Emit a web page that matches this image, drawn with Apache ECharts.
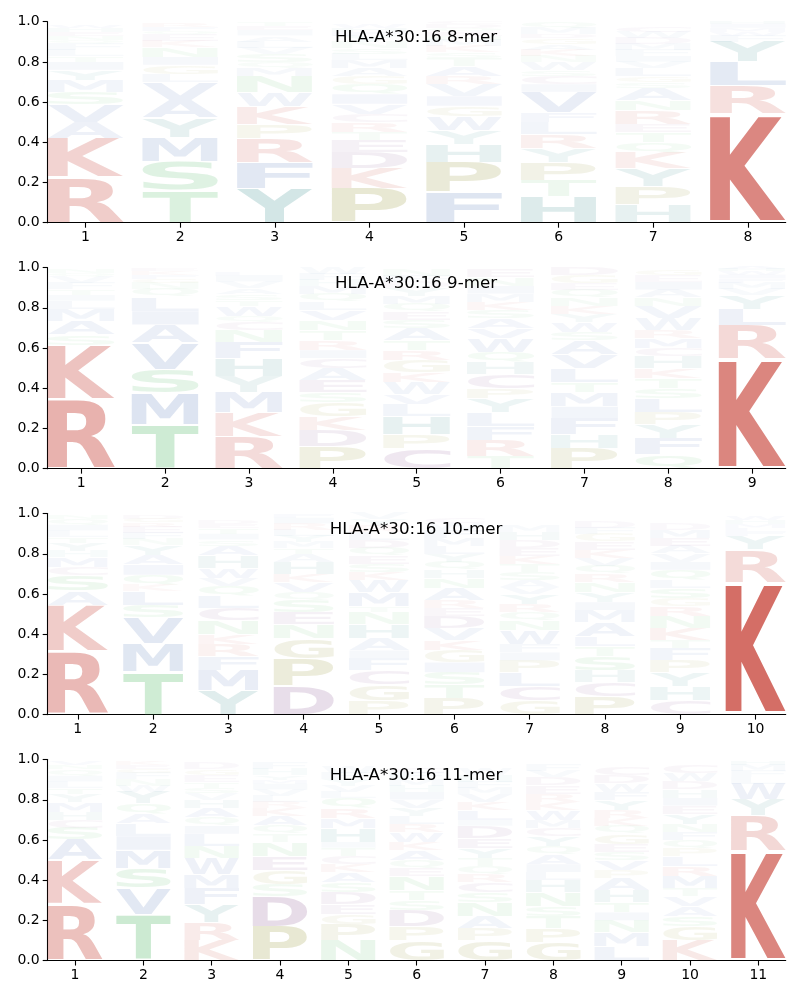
<!DOCTYPE html>
<html><head><meta charset="utf-8">
<script src="https://cdn.jsdelivr.net/npm/echarts@6.0.0/dist/echarts.min.js"></script>
<style>html,body{margin:0;padding:0;background:#fff}#chart{width:800px;height:1000px}</style>
</head><body><div id="chart"></div>
<script>
// ---------------- DATA ----------------
const titles = ['HLA-A*30:16 8-mer', 'HLA-A*30:16 9-mer', 'HLA-A*30:16 10-mer', 'HLA-A*30:16 11-mer'];
const yTicks = [0, 0.2, 0.4, 0.6, 0.8, 1.0];
const pos8 = [1, 2, 3, 4, 5, 6, 7, 8];
const pos9 = [1, 2, 3, 4, 5, 6, 7, 8, 9];
const pos10 = [1, 2, 3, 4, 5, 6, 7, 8, 9, 10];
const pos11 = [1, 2, 3, 4, 5, 6, 7, 8, 9, 10, 11];

// each column: letters from bottom to top with their heights
const mer8 = [
  [['R',.225],['K',.195],['A',.08],['V',.09],['S',.06],['M',.06],['Y',.05],['I',.04],['T',.03],['L',.03],['F',.03],['Q',.02],['N',.02],['E',.02],['H',.02],['W',.01]],
  [['T',.16],['S',.145],['M',.12],['Y',.095],['A',.09],['V',.09],['L',.04],['G',.045],['I',.04],['N',.05],['K',.03],['E',.03],['Q',.02],['F',.02],['R',.02]],
  [['Y',.17],['F',.13],['R',.12],['P',.07],['K',.09],['W',.07],['N',.08],['M',.04],['Q',.03],['S',.04],['V',.03],['L',.03],['A',.03],['I',.03],['E',.02],['T',.02]],
  [['P',.17],['K',.10],['D',.08],['E',.06],['T',.04],['R',.05],['C',.04],['V',.05],['I',.05],['Q',.05],['G',.04],['A',.04],['M',.04],['L',.03],['S',.03],['N',.03],['Y',.03],['F',.02],['H',.02],['W',.02]],
  [['F',.15],['P',.15],['H',.09],['Y',.07],['W',.07],['G',.05],['I',.05],['V',.06],['R',.04],['A',.05],['T',.04],['S',.03],['K',.03],['M',.03],['N',.02],['E',.02],['Q',.02],['D',.02],['C',.01]],
  [['H',.13],['T',.08],['P',.09],['Y',.07],['R',.07],['L',.06],['F',.05],['V',.10],['I',.04],['C',.04],['S',.03],['W',.04],['N',.03],['K',.03],['A',.03],['G',.03],['D',.02],['M',.03],['Q',.03]],
  [['H',.09],['P',.09],['Y',.09],['K',.08],['Q',.05],['T',.05],['E',.04],['R',.07],['N',.05],['A',.06],['S',.03],['G',.03],['L',.04],['V',.03],['I',.03],['F',.03],['M',.03],['D',.03],['W',.03],['C',.03]],
  [['K',.54],['R',.14],['L',.12],['Y',.10],['F',.03],['W',.02],['M',.02],['I',.02],['H',.01]]
];
const mer9 = [
  [['R',.345],['K',.27],['S',.05],['A',.07],['M',.06],['L',.04],['I',.03],['T',.03],['F',.03],['V',.03],['Q',.02],['N',.02]],
  [['T',.22],['M',.155],['S',.12],['V',.13],['A',.09],['I',.07],['L',.07],['Q',.04],['N',.03],['G',.02],['F',.02],['K',.02],['E',.01]],
  [['R',.16],['K',.12],['M',.10],['Y',.08],['H',.09],['F',.08],['N',.06],['C',.04],['Q',.03],['W',.05],['T',.03],['S',.03],['A',.03],['V',.03],['I',.03],['L',.02]],
  [['P',.11],['D',.08],['K',.07],['G',.07],['S',.05],['E',.06],['A',.06],['C',.05],['I',.04],['R',.05],['T',.05],['N',.05],['V',.05],['L',.04],['Q',.04],['M',.04],['H',.03],['F',.03],['W',.03]],
  [['C',.10],['P',.07],['H',.09],['L',.06],['V',.05],['W',.06],['K',.05],['G',.06],['R',.05],['T',.05],['A',.06],['S',.04],['E',.04],['Q',.04],['M',.04],['Y',.04],['D',.03],['F',.03],['N',.03]],
  [['T',.06],['R',.08],['F',.07],['L',.07],['Y',.07],['P',.05],['C',.07],['H',.06],['Q',.05],['W',.07],['V',.05],['A',.05],['S',.04],['K',.04],['M',.04],['I',.04],['N',.04],['E',.04]],
  [['P',.10],['H',.07],['F',.08],['I',.06],['M',.07],['T',.05],['L',.07],['V',.07],['A',.07],['S',.04],['W',.05],['Y',.04],['K',.04],['N',.04],['Q',.04],['E',.03],['G',.04],['D',.04]],
  [['Q',.07],['F',.08],['Y',.07],['P',.06],['L',.07],['S',.05],['T',.05],['K',.05],['H',.06],['C',.04],['M',.05],['R',.04],['W',.06],['V',.06],['N',.04],['A',.04],['I',.04],['E',.03],['G',.03]],
  [['K',.545],['R',.17],['L',.08],['Y',.07],['V',.03],['M',.03],['F',.02],['I',.02],['W',.02],['H',.01],['A',.01]]
];
const mer10 = [
  [['R',.315],['K',.23],['A',.07],['S',.08],['C',.04],['M',.05],['H',.03],['Y',.04],['T',.03],['L',.03],['I',.03],['Q',.03],['N',.02]],
  [['T',.215],['M',.14],['V',.13],['S',.06],['L',.07],['K',.03],['Q',.05],['I',.05],['A',.05],['Y',.05],['N',.03],['F',.03],['E',.03],['R',.02],['G',.02],['D',.02]],
  [['Y',.12],['M',.10],['F',.07],['R',.06],['K',.05],['N',.07],['C',.06],['L',.06],['Q',.05],['V',.04],['W',.05],['H',.06],['A',.05],['S',.03],['I',.03],['T',.03],['E',.02],['D',.02]],
  [['D',.14],['P',.14],['G',.10],['N',.07],['E',.06],['S',.06],['Q',.04],['V',.05],['K',.04],['H',.06],['A',.04],['T',.03],['M',.03],['Y',.03],['L',.03],['R',.03],['I',.03],['F',.02]],
  [['P',.07],['G',.08],['C',.07],['F',.06],['I',.04],['A',.06],['H',.07],['N',.06],['T',.03],['M',.07],['W',.06],['K',.04],['S',.04],['E',.04],['Q',.04],['D',.04],['L',.04],['R',.03],['Y',.03],['V',.03]],
  [['P',.08],['T',.07],['S',.06],['I',.05],['G',.06],['K',.05],['V',.06],['D',.06],['E',.04],['R',.04],['A',.06],['N',.05],['H',.04],['Q',.04],['Y',.04],['L',.04],['M',.04],['F',.04],['W',.03],['C',.03]],
  [['G',.07],['C',.07],['L',.07],['P',.06],['I',.04],['F',.04],['W',.07],['N',.05],['Q',.04],['R',.04],['Y',.05],['V',.035],['A',.035],['S',.04],['T',.04],['K',.04],['E',.04],['D',.04],['H',.04],['M',.03]],
  [['P',.09],['C',.07],['H',.06],['S',.07],['T',.05],['L',.05],['A',.07],['M',.06],['I',.04],['Y',.05],['N',.05],['R',.04],['Q',.04],['V',.04],['K',.04],['E',.04],['G',.04],['F',.03],['D',.03]],
  [['C',.07],['H',.07],['Y',.07],['P',.06],['F',.06],['T',.04],['K',.06],['N',.06],['R',.05],['G',.04],['S',.05],['L',.04],['Q',.05],['I',.04],['V',.04],['A',.04],['E',.04],['M',.04],['D',.03]],
  [['K',.655],['R',.165],['Y',.07],['F',.02],['L',.02],['M',.02],['H',.02],['W',.02]]
];
const mer11 = [
  [['R',.28],['K',.22],['A',.10],['S',.06],['C',.04],['H',.04],['M',.05],['Y',.04],['T',.03],['L',.03],['I',.03],['Q',.03],['N',.02],['V',.02]],
  [['T',.23],['V',.13],['S',.10],['M',.09],['I',.07],['L',.06],['A',.05],['Q',.05],['Y',.06],['W',.03],['N',.03],['F',.03],['G',.02],['E',.02],['K',.02]],
  [['K',.10],['R',.09],['Y',.09],['F',.08],['M',.07],['W',.08],['N',.06],['L',.06],['I',.04],['Q',.04],['A',.05],['H',.04],['V',.03],['S',.03],['T',.03],['E',.03],['G',.03],['D',.03]],
  [['P',.17],['D',.15],['S',.06],['G',.07],['E',.07],['N',.07],['T',.04],['Q',.04],['A',.05],['K',.04],['R',.03],['L',.03],['V',.03],['I',.03],['M',.02],['Y',.02],['H',.03],['F',.03]],
  [['N',.10],['P',.08],['G',.05],['E',.05],['D',.06],['S',.05],['A',.05],['K',.04],['C',.04],['T',.04],['I',.03],['H',.07],['M',.05],['R',.05],['Q',.05],['L',.03],['V',.03],['Y',.03],['F',.03],['W',.03]],
  [['G',.10],['P',.07],['D',.08],['S',.05],['T',.05],['N',.07],['E',.04],['Q',.04],['A',.05],['K',.04],['W',.05],['R',.04],['L',.04],['Y',.04],['V',.04],['I',.04],['H',.03],['M',.03],['F',.03],['C',.03]],
  [['G',.10],['P',.06],['A',.06],['N',.07],['S',.05],['C',.05],['R',.04],['Q',.04],['T',.04],['Y',.05],['E',.05],['D',.06],['I',.03],['L',.05],['K',.04],['V',.04],['M',.03],['F',.03],['H',.03],['W',.03]],
  [['G',.09],['P',.07],['T',.06],['S',.05],['N',.07],['H',.06],['L',.04],['I',.04],['A',.05],['Q',.04],['Y',.05],['C',.04],['M',.04],['W',.05],['K',.04],['R',.04],['E',.04],['D',.04],['V',.03],['F',.03]],
  [['L',.07],['M',.07],['N',.06],['I',.04],['T',.05],['H',.06],['A',.06],['P',.04],['V',.05],['S',.04],['E',.04],['G',.05],['Q',.04],['K',.04],['R',.04],['Y',.05],['F',.04],['W',.04],['D',.04],['C',.04]],
  [['K',.10],['G',.07],['S',.05],['A',.05],['V',.05],['T',.04],['M',.06],['R',.05],['L',.05],['P',.04],['Q',.04],['F',.04],['N',.04],['Y',.05],['E',.04],['I',.04],['H',.04],['D',.04],['W',.04],['C',.04]],
  [['K',.545],['R',.175],['Y',.08],['W',.08],['L',.03],['F',.03],['M',.03],['H',.02]]
];

// ---------------- STYLE ----------------
const FONT = 'bold 100px "DejaVu Sans"';
const GROUP = {
  red: [200, 70, 60], green: [70, 180, 90], blue: [70, 110, 180],
  teal: [40, 130, 130], olive: [140, 140, 40], purple: [120, 60, 130]
};
const LETTER_GROUP = {
  K:'red', R:'red', S:'green', T:'green', N:'green', Q:'green',
  A:'blue', V:'blue', L:'blue', I:'blue', M:'blue', F:'blue', W:'blue',
  Y:'teal', H:'teal', P:'olive', G:'olive', D:'purple', E:'purple', C:'purple'
};
const VPAD = 0.05;

// glyph ink metrics
const cv = document.createElement('canvas');
const ctx = cv.getContext('2d');
ctx.font = FONT; ctx.textBaseline = 'middle'; ctx.textAlign = 'left';
const metrics = {};
'ACDEFGHIKLMNPQRSTVWY'.split('').forEach(c => {
  const m = ctx.measureText(c);
  metrics[c] = { l: m.actualBoundingBoxLeft, r: m.actualBoundingBoxRight, a: m.actualBoundingBoxAscent, d: m.actualBoundingBoxDescent };
});

function buildItems(cols) {
  const items = [];
  cols.forEach((col, i) => {
    let y = 0;
    col.forEach(([ch, h]) => { items.push({ pos: i + 1, y0: y, y1: y + h, ch, h }); y += h; });
  });
  return items;
}

const panels = [
  { cols: mer8, pos: pos8 }, { cols: mer9, pos: pos9 },
  { cols: mer10, pos: pos10 }, { cols: mer11, pos: pos11 }
];

const GRID_LEFT = 47.7, GRID_W = 738, GRID_H = 201, TOP0 = 21.7, STEP = 245.95;
const grids = [], xAxes = [], yAxes = [], series = [], titleOpts = [];
const axisFont = { color: '#000', fontSize: 14, fontFamily: 'DejaVu Sans' };

panels.forEach((p, i) => {
  const items = buildItems(p.cols);
  const n = p.cols.length;
  grids.push({ left: GRID_LEFT, width: GRID_W, top: TOP0 + i * STEP, height: GRID_H, containLabel: false });
  xAxes.push({
    gridIndex: i, type: 'value', min: 0.6, max: n + 0.4,
    axisLine: { show: true, lineStyle: { color: '#000', width: 1.1 } },
    axisTick: { show: true, customValues: p.pos, length: 5, lineStyle: { color: '#000', width: 1.1 } },
    axisLabel: Object.assign({ customValues: p.pos, margin: 8 }, axisFont),
    splitLine: { show: false }
  });
  yAxes.push({
    gridIndex: i, type: 'value', min: 0, max: 1, interval: 0.2,
    axisLine: { show: true, lineStyle: { color: '#000', width: 1.1 } },
    axisTick: { show: true, length: 5, lineStyle: { color: '#000', width: 1.1 } },
    axisLabel: Object.assign({ margin: 8, formatter: v => v.toFixed(1) }, axisFont),
    splitLine: { show: false }
  });
  titleOpts.push({
    text: titles[i], left: 416, top: 29 + i * STEP, textAlign: 'center', padding: 0,
    textStyle: { fontSize: 16.7, fontWeight: 'normal', color: '#000', fontFamily: 'DejaVu Sans' }
  });
  series.push({
    type: 'custom', xAxisIndex: i, yAxisIndex: i, animation: false, silent: true,
    data: items.map(d => [d.pos, d.y0, d.y1]),
    renderItem: function (params, api) {
      const it = items[params.dataIndex];
      const pad = (it.y1 - it.y0) * VPAD / 2;
      const bl = api.coord([it.pos - 0.4, it.y0 + pad]);
      const tr = api.coord([it.pos + 0.4, it.y1 - pad]);
      const m = metrics[it.ch];
      const sx = (tr[0] - bl[0]) / (m.l + m.r);
      const sy = (bl[1] - tr[1]) / (m.a + m.d);
      const c = GROUP[LETTER_GROUP[it.ch]];
      const a = Math.min(1, Math.max(0.03, it.h * 1.2));
      return {
        type: 'text', x: bl[0] + sx * m.l, y: tr[1] + sy * m.a, scaleX: sx, scaleY: sy, silent: true,
        style: { text: it.ch, font: FONT, fill: 'rgba(' + c[0] + ',' + c[1] + ',' + c[2] + ',' + a + ')',
                 align: 'left', verticalAlign: 'middle', textAlign: 'left', textVerticalAlign: 'middle' }
      };
    }
  });
});

const chart = echarts.init(document.getElementById('chart'), null, { renderer: 'canvas' });
chart.setOption({
  backgroundColor: '#fff', animation: false,
  title: titleOpts, grid: grids, xAxis: xAxes, yAxis: yAxes, series: series
});
</script>
</body></html>
